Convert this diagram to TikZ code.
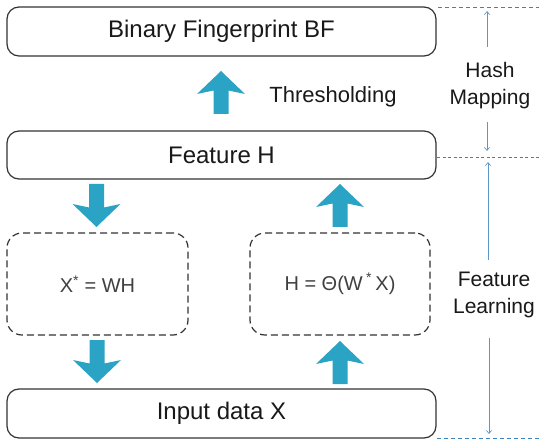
\documentclass[tikz,border=0pt]{standalone}
\usepackage{fontspec}
\setmainfont{Liberation Sans}
\usetikzlibrary{arrows.meta}
\definecolor{arrowfill}{HTML}{2BA3C4}
\definecolor{sideblue}{HTML}{3C82C0}
\definecolor{thinblue}{HTML}{5D97C8}
\definecolor{boxline}{HTML}{333333}
\tikzset{
  solidbox/.style={draw=boxline, line width=1.2pt, rounded corners=12pt, fill=white,
    font=\fontsize{24}{28}\selectfont, text=black!90, inner sep=0pt},
  dashbox/.style={draw=boxline, line width=1.2pt, dashed, dash pattern=on 7pt off 4pt,
    rounded corners=15pt, font=\fontsize{20}{24}\selectfont, text=black!75, inner sep=0pt},
  sidelabel/.style={font=\fontsize{21}{27}\selectfont, align=center, text=black!90},
  sidedash/.style={draw=sideblue, line width=0.9pt, dash pattern=on 4pt off 3pt},
  sidearrow/.style={draw=thinblue, line width=0.7pt, -{Straight Barb[length=3pt,width=5pt]}},
  uparr/.pic={\fill[arrowfill] (0,0) -- (24,23) -- (7.5,19.5) -- (7.5,43) -- (-7.5,43) -- (-7.5,19.5) -- (-24,23) -- cycle;},
  downarr/.pic={\fill[arrowfill] (0,0) -- (24,-23) -- (7.5,-19.5) -- (7.5,-43) -- (-7.5,-43) -- (-7.5,-19.5) -- (-24,-23) -- cycle;}
}
\begin{document}
\begin{tikzpicture}[x=1pt,y=-1pt]
\useasboundingbox[fill=white] (0,0) rectangle (539,441);
% main boxes
\node[solidbox, minimum width=429pt, minimum height=49pt] (bf) at (221.5,31.5) {Binary Fingerprint BF};
\node[solidbox, minimum width=429pt, minimum height=48pt] (feat) at (221.5,155) {Feature H};
\node[solidbox, minimum width=429pt, minimum height=49pt] (inp) at (221.5,413.5) {Input data X};
\node[dashbox, minimum width=181pt, minimum height=102pt] (dec) at (97.5,284) {X\textsuperscript{*} = WH};
\node[dashbox, minimum width=180pt, minimum height=102pt] (enc) at (340,284) {H = Θ(W\,\textsuperscript{*}\,X)};
% labels
\node[font=\fontsize{22}{26}\selectfont, text=black!90] (thr) at (333,97) {Thresholding};
\node[sidelabel] (hm) at (490,86) {Hash\\Mapping};
\node[sidelabel] (fl) at (494,295) {Feature\\Learning};
% block arrows
\pic at (221,71) {uparr};
\pic at (96.5,227) {downarr};
\pic at (340,184) {uparr};
\pic at (97,383) {downarr};
\pic at (340,341) {uparr};
% side dashed lines
\coordinate (t0) at (438,7);   \coordinate (t1) at (539,7);
\coordinate (m0) at (437,157); \coordinate (m1) at (539,157);
\coordinate (b0) at (437,438); \coordinate (b1) at (539,438);
\draw[sidedash] (t0) -- (t1);
\draw[sidedash, dash pattern=on 3pt off 2.5pt, line width=0.8pt] (m0) -- (m1);
\draw[sidedash] (b0) -- (b1);
% side arrows
\coordinate (h0) at (487,47);  \coordinate (h1) at (487,11);
\coordinate (h2) at (487,122); \coordinate (h3) at (487,151);
\coordinate (f0) at (488,260); \coordinate (f1) at (488,162);
\coordinate (f2) at (489,338); \coordinate (f3) at (489,434);
\draw[sidearrow] (h0) -- (h1);
\draw[sidearrow] (h2) -- (h3);
\draw[sidearrow] (f0) -- (f1);
\draw[sidearrow] (f2) -- (f3);
\end{tikzpicture}
\end{document}
